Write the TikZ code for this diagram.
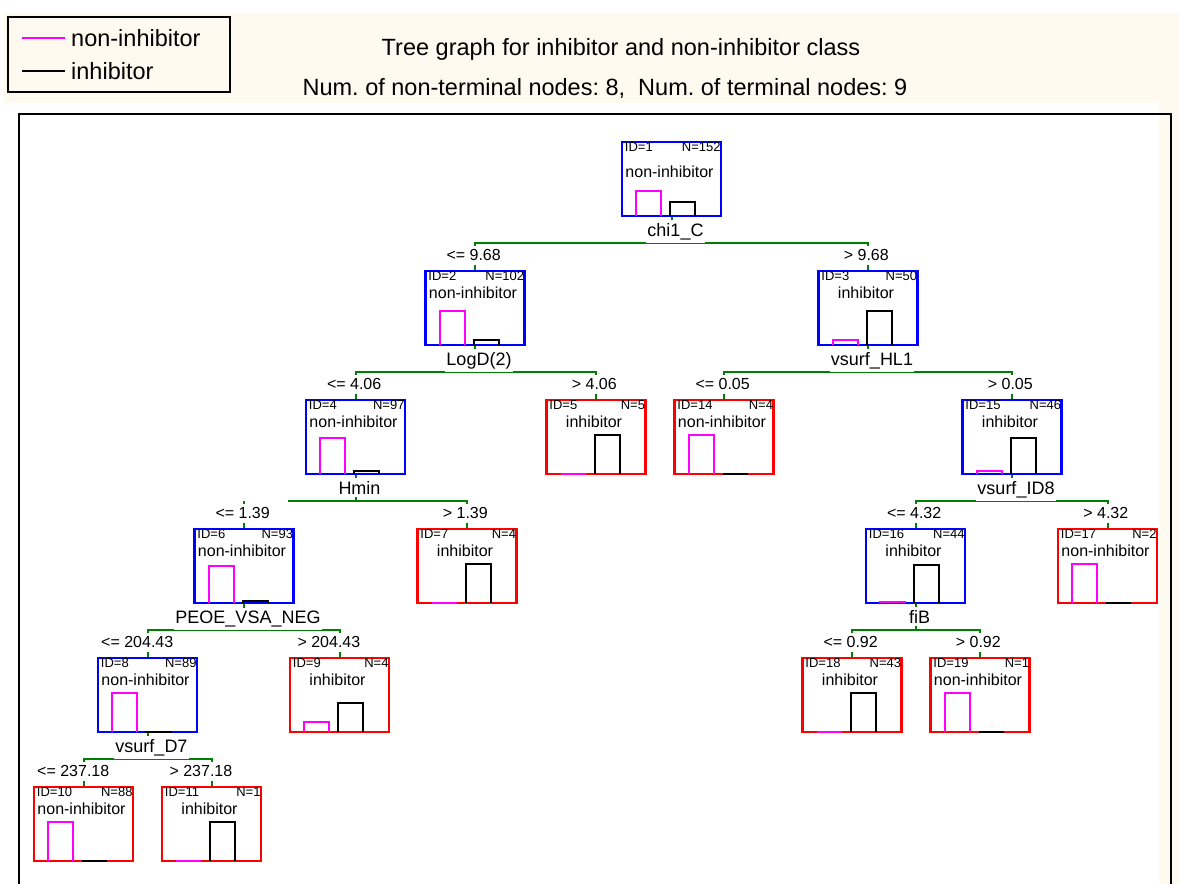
\documentclass[tikz,border=0pt]{standalone}
\usepackage{fontspec}
\setmainfont{Liberation Sans}
\usetikzlibrary{calc}

\definecolor{paper}{RGB}{255,250,240}
\definecolor{splitgreen}{RGB}{0,128,0}
\definecolor{noninh}{RGB}{255,0,255}
\frenchspacing

\begin{document}
\begin{tikzpicture}[x=1pt, y=-1pt,
  box/.style={draw, line width=2.5pt, minimum width=99pt, minimum height=74pt, inner sep=0pt},
  inner/.style={box, draw=blue},
  leaf/.style={box, draw=red},
  idlab/.style={anchor=base west, inner sep=0pt, font=\fontsize{13}{13}\selectfont},
  nlab/.style={anchor=base east, inner sep=0pt, font=\fontsize{13}{13}\selectfont},
  clslab/.style={anchor=base, inner sep=0pt, font=\fontsize{16}{16}\selectfont},
  varlab/.style={anchor=base, fill=white, inner xsep=1pt, inner ysep=3pt, font=\fontsize{18}{18}\selectfont},
  condlab/.style={anchor=base east, fill=white, inner xsep=1pt, inner ysep=4pt, font=\fontsize{16}{16}\selectfont},
  title/.style={anchor=base, inner sep=0pt, font=\fontsize{23.5}{23.5}\selectfont},
  legtext/.style={anchor=west, inner sep=0pt, font=\fontsize{23.5}{23.5}\selectfont},
  split/.style={draw=splitgreen, line width=2pt},
  bar/.style={line width=2pt}
]
\useasboundingbox (0,0) rectangle (1179,884);
\fill[white] (0,0) rectangle (1179,884);
\fill[paper] (4,13) rectangle (1179,884);
\fill[white] (0,103) rectangle (1159,884);
\draw[line width=2.5pt] (19,884) -- (19,114) -- (1171,114) -- (1171,884);

\draw[line width=2pt, fill=paper] (8,17) rectangle (230,92);
\draw[line width=2pt, noninh] (22,38) -- (65,38);
\draw[line width=2pt] (22,71) -- (65,71);
\node[legtext] (lg1) at (71,38) {non-inhibitor};
\node[legtext] (lg2) at (71,71) {inhibitor};

\node[title] (t1) at (621,55) {Tree graph for inhibitor and non-inhibitor class};
\node[title] (t2) at (605,95) {Num. of non-terminal nodes: 8,\ \ Num. of terminal nodes: 9};

\foreach \id/\x/\r/\kind/\cls/\ly/\N/\a/\b in {
  1/671.5/0/inner/non-inhibitor/37/152/96/56,
  2/475/1/inner/non-inhibitor/29/102/89/13,
  3/868/1/inner/inhibitor/29/50/7/43,
  4/355.5/2/inner/non-inhibitor/29/97/89/8,
  5/596/2/leaf/inhibitor/29/5/0/5,
  14/724/2/leaf/non-inhibitor/29/4/4/0,
  15/1012/2/inner/inhibitor/29/46/3/43,
  6/244/3/inner/non-inhibitor/29/93/89/4,
  7/467/3/leaf/inhibitor/29/4/0/4,
  16/915.5/3/inner/inhibitor/29/44/1/43,
  17/1107.5/3/leaf/non-inhibitor/29/2/2/0,
  8/147.5/4/inner/non-inhibitor/29/89/88/1,
  9/339.5/4/leaf/inhibitor/29/4/1/3,
  18/852/4/leaf/inhibitor/29/43/0/43,
  19/980/4/leaf/non-inhibitor/29/1/1/0,
  10/83.5/5/leaf/non-inhibitor/29/88/88/0,
  11/211.5/5/leaf/inhibitor/29/1/0/1}
{
  \node[\kind] (n\id) at (\x, 179+129*\r) {};
  \node[idlab] (id\id) at ($(n\id.north west)+(4,11)$) {ID=\id};
  \node[nlab] (nn\id) at ($(n\id.north east)+(-1.5,11)$) {N=\N};
  \node[clslab] (cl\id) at ($(n\id.north)+(-2,\ly)$) {\cls};
  \pgfmathsetmacro\ha{39*\a/\N}
  \pgfmathsetmacro\hb{39*\b/\N}
  \draw[bar, noninh] ($(n\id.south west)+(15.5,-1.25)$) -- ++(0,-\ha) -- ++(25,0) -- ++(0,\ha);
  \draw[bar, black] ($(n\id.south west)+(49.5,-1.25)$) -- ++(0,-\hb) -- ++(25,0) -- ++(0,\hb);
}

\draw[split] (n2.north) -- ++(0,-26.5) coordinate (s1) -| (n3.north);
\draw[split] (n1.south) -- (n1.south |- s1);
\draw[split] (n4.north) -- ++(0,-26.5) coordinate (s2) -| (n5.north);
\draw[split] (n2.south) -- (n2.south |- s2);
\draw[split] (n14.north) -- ++(0,-26.5) coordinate (s3) -| (n15.north);
\draw[split] (n3.south) -- (n3.south |- s3);
\draw[split] (n6.north) -- ++(0,-26.5) coordinate (s4);
\draw[split] (n7.north) -- ++(0,-26.5) -- ++(-179,0);
\draw[split] (n4.south) -- (n4.south |- s4);
\draw[split] (n8.north) -- ++(0,-26.5) coordinate (s6) -| (n9.north);
\draw[split] (n6.south) -- (n6.south |- s6);
\draw[split] (n10.north) -- ++(0,-26.5) coordinate (s8) -| (n11.north);
\draw[split] (n8.south) -- (n8.south |- s8);
\draw[split] (n16.north) -- ++(0,-26.5) coordinate (s15) -| (n17.north);
\draw[split] (n15.south) -- (n15.south |- s15);
\draw[split] (n18.north) -- ++(0,-26.5) coordinate (s16) -| (n19.north);
\draw[split] (n16.south) -- (n16.south |- s16);

\node[varlab] (v1) at ($(n1.south)+(4,19)$) {chi1\_C};
\node[varlab] (v2) at ($(n2.south)+(4,19)$) {LogD(2)};
\node[varlab] (v3) at ($(n3.south)+(4,19)$) {vsurf\_HL1};
\node[varlab] (v4) at ($(n4.south)+(4,19)$) {Hmin};
\node[varlab] (v6) at ($(n6.south)+(4,19)$) {PEOE\_VSA\_NEG};
\node[varlab] (v8) at ($(n8.south)+(4,19)$) {vsurf\_D7};
\node[varlab] (v15) at ($(n15.south)+(4,19)$) {vsurf\_ID8};
\node[varlab] (v16) at ($(n16.south)+(4,19)$) {fiB};

\node[condlab] (c2) at ($(n2.north)+(27,-9)$) {<= 9.68};
\node[condlab] (c3) at ($(n3.north)+(22,-9)$) {> 9.68};
\node[condlab] (c4) at ($(n4.north)+(27,-9)$) {<= 4.06};
\node[condlab] (c5) at ($(n5.north)+(22,-9)$) {> 4.06};
\node[condlab] (c14) at ($(n14.north)+(27,-9)$) {<= 0.05};
\node[condlab] (c15) at ($(n15.north)+(22,-9)$) {> 0.05};
\node[condlab] (c6) at ($(n6.north)+(27,-9)$) {<= 1.39};
\node[condlab] (c7) at ($(n7.north)+(22,-9)$) {> 1.39};
\node[condlab] (c8) at ($(n8.north)+(27,-9)$) {<= 204.43};
\node[condlab] (c9) at ($(n9.north)+(22,-9)$) {> 204.43};
\node[condlab] (c10) at ($(n10.north)+(27,-9)$) {<= 237.18};
\node[condlab] (c11) at ($(n11.north)+(22,-9)$) {> 237.18};
\node[condlab] (c16) at ($(n16.north)+(27,-9)$) {<= 4.32};
\node[condlab] (c17) at ($(n17.north)+(22,-9)$) {> 4.32};
\node[condlab] (c18) at ($(n18.north)+(27,-9)$) {<= 0.92};
\node[condlab] (c19) at ($(n19.north)+(22,-9)$) {> 0.92};
\end{tikzpicture}
\end{document}
